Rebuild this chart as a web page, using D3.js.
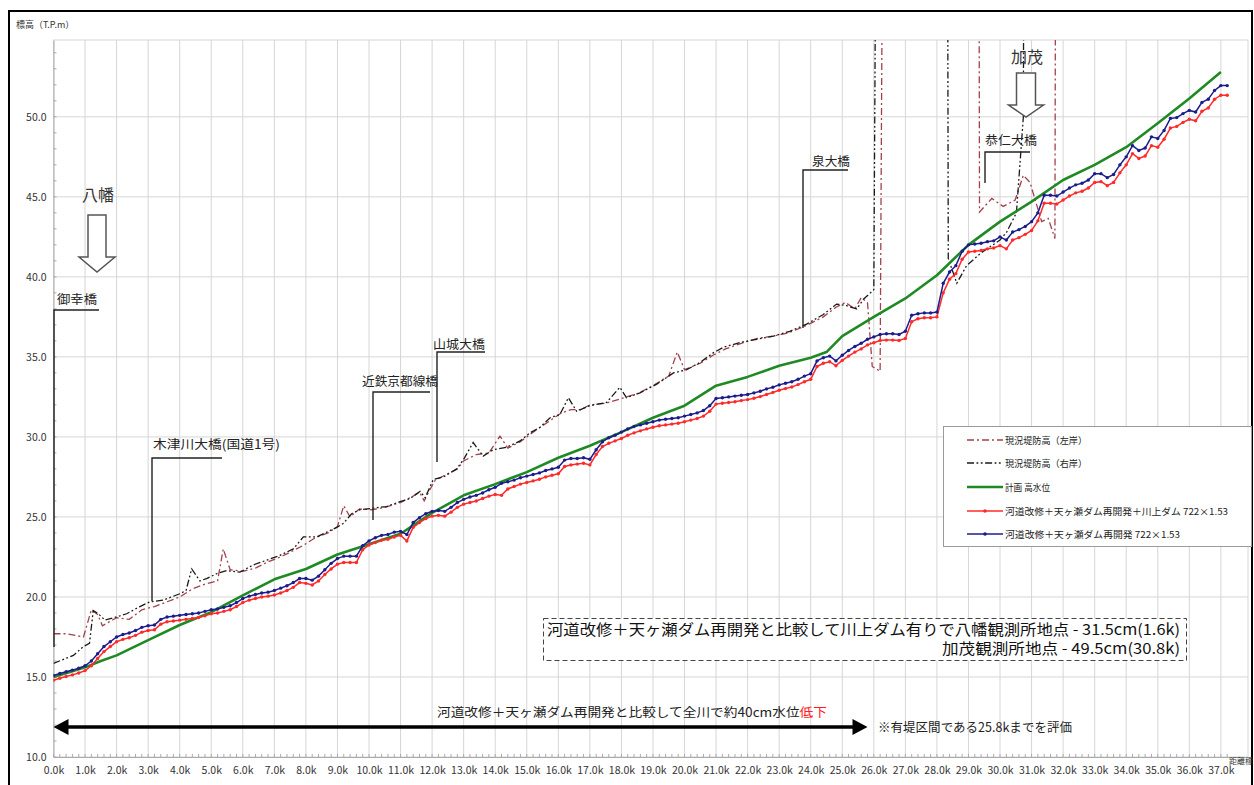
<!DOCTYPE html>
<html>
<head>
<meta charset="utf-8">
<script src="https://cdn.jsdelivr.net/npm/d3@7"></script>
<style>
  body { margin: 0; background: #fff; }
  svg { display: block; }
  text { font-family: "Noto Sans CJK JP", "Noto Sans", sans-serif; }
</style>
</head>
<body>
<svg id="chart" width="1254" height="785"></svg>
<script>
// ---------- data ----------
// distance markers (km) and their labels
const kmTicks = [0,1,2,3,4,5,6,7,8,9,10,11,12,13,14,15,16,17,18,19,20,21,22,23,24,25,26,27,28,29,30,31,32,33,34,35,36,37];
const kmLabels = ["0.0k","1.0k","2.0k","3.0k","4.0k","5.0k","6.0k","7.0k","8.0k","9.0k","10.0k","11.0k","12.0k","13.0k","14.0k","15.0k","16.0k","17.0k","18.0k","19.0k","20.0k","21.0k","22.0k","23.0k","24.0k","25.0k","26.0k","27.0k","28.0k","29.0k","30.0k","31.0k","32.0k","33.0k","34.0k","35.0k","36.0k","37.0k"];
const elevTicks = [10,15,20,25,30,35,40,45,50];
const elevLabels = ["10.0","15.0","20.0","25.0","30.0","35.0","40.0","45.0","50.0"];

// computed water level every 0.2 km from 0.0k to 37.2k
const stations = d3.range(0, 187).map(i => +(i * 0.2).toFixed(1));

// 河道改修＋天ヶ瀬ダム再開発 722×1.53
const wlWithoutKawakami = [
  15.10,15.22,15.33,15.43,15.55, 15.70,16.00,16.45,16.90,17.20,
  17.50,17.65,17.75,17.90,18.10, 18.20,18.25,18.60,18.75,18.80,
  18.85,18.90,18.95,19.00,19.10, 19.20,19.25,19.35,19.45,19.65,
  19.90,20.05,20.15,20.25,20.30, 20.40,20.55,20.70,20.90,21.15,
  21.15,21.05,21.30,21.70,22.10, 22.40,22.55,22.55,22.55,23.20,
  23.50,23.70,23.85,23.90,24.05, 24.10,23.90,24.65,24.95,25.20,
  25.35,25.40,25.35,25.60,25.90, 26.10,26.25,26.35,26.50,26.70,
  26.85,27.10,27.20,27.30,27.45, 27.55,27.65,27.75,27.90,28.00,
  28.10,28.55,28.65,28.65,28.70, 28.60,29.20,29.70,29.95,30.10,
  30.30,30.50,30.65,30.75,30.85, 30.95,31.05,31.10,31.15,31.20,
  31.30,31.40,31.50,31.65,31.95, 32.40,32.45,32.50,32.55,32.60,
  32.65,32.75,32.85,33.00,33.10, 33.25,33.35,33.45,33.60,33.80,
  33.95,34.75,34.95,35.05,34.75, 35.10,35.40,35.65,35.85,36.10,
  36.25,36.40,36.45,36.45,36.40, 36.60,37.60,37.70,37.75,37.75,
  37.80,39.60,40.30,40.70,41.60, 42.00,42.05,42.10,42.20,42.25,
  42.50,42.30,42.80,42.95,43.15, 43.45,44.00,45.10,45.10,45.05,
  45.30,45.55,45.75,45.85,46.05, 46.45,46.45,46.20,46.40,47.00,
  47.50,48.20,47.90,48.05,48.75, 48.65,49.15,49.90,49.95,50.20,
  50.40,50.30,50.90,51.10,51.65, 51.95,51.95
];

// 河道改修＋天ヶ瀬ダム再開発＋川上ダム 722×1.53
const wlWithKawakami = [
  14.80,14.92,15.03,15.13,15.25, 15.40,15.70,16.15,16.585,16.90,
  17.20,17.35,17.45,17.60,17.80, 17.90,17.95,18.30,18.45,18.50,
  18.55,18.60,18.65,18.72,18.82, 18.95,19.00,19.10,19.20,19.40,
  19.65,19.80,19.90,20.00,20.05, 20.12,20.25,20.40,20.60,20.90,
  20.85,20.75,21.00,21.40,21.75, 22.05,22.15,22.15,22.15,22.95,
  23.25,23.40,23.55,23.60,23.75, 23.85,23.50,24.35,24.65,24.90,
  25.05,25.10,25.05,25.30,25.60, 25.80,25.90,26.00,26.15,26.30,
  26.40,26.35,26.75,26.90,27.05, 27.15,27.25,27.35,27.50,27.60,
  27.70,28.15,28.25,28.30,28.35, 28.25,28.90,29.40,29.60,29.75,
  29.90,30.10,30.25,30.38,30.50, 30.60,30.70,30.75,30.80,30.85,
  30.95,31.05,31.15,31.30,31.60, 32.05,32.10,32.15,32.20,32.27,
  32.33,32.42,32.52,32.65,32.78, 32.92,33.02,33.12,33.27,33.45,
  33.60,34.40,34.60,34.70,34.45, 34.78,35.05,35.30,35.50,35.75,
  35.88,36.02,36.05,36.05,36.02, 36.15,37.20,37.38,37.45,37.45,
  37.50,39.00,39.85,40.20,41.10, 41.55,41.60,41.65,41.75,41.80,
  41.95,41.75,42.30,42.45,42.655, 42.90,43.50,44.60,44.60,44.55,
  44.80,45.05,45.25,45.35,45.55, 45.90,45.95,45.70,45.90,46.50,
  47.00,47.70,47.40,47.55,48.20, 48.10,48.60,49.30,49.40,49.65,
  49.85,49.75,50.35,50.55,51.10, 51.35,51.35
];

// 計画 高水位 [km, m]
const planHWL = [
  [0,15.0],[0.5,15.3],[1,15.6],[1.5,16.0],[2,16.35],[3,17.3],[4,18.25],[5,19.05],[6,20.1],[7,21.1],
  [8,21.75],[9,22.65],[10,23.3],[11,23.95],[12,25.25],[13,26.35],[14,27.05],[15,27.8],[16,28.7],[17,29.45],
  [18,30.3],[19,31.2],[20,31.95],[21,33.2],[22,33.75],[23,34.45],[24,34.95],[24.5,35.3],[25,36.3],[26,37.5],
  [27,38.65],[28,40.1],[29,42.0],[30,43.45],[31,44.7],[32,46.05],[33,47.0],[34,48.1],[35,49.6],[36,51.15],[37,52.8]
];

// 現況堤防高（左岸） [km, m]; 100 marks sections with no levee (above the axis)
const leveeLeft = [
  [0,17.7],[0.4,17.7],[0.95,17.5],[1.2,19.2],[1.4,18.9],[1.55,18.2],[2.0,18.7],[2.4,18.6],[2.8,19.2],[3.2,19.4],
  [3.6,19.7],[4.0,20.0],[4.4,20.5],[4.8,20.8],[5.2,21.0],[5.38,23.0],[5.6,21.7],[6.0,21.6],[6.4,21.8],[6.8,22.2],
  [7.2,22.5],[7.6,22.9],[7.9,23.2],[8.3,23.7],[8.7,24.0],[9.0,24.4],[9.2,25.7],[9.4,25.0],[9.7,25.5],[10.1,25.45],
  [10.5,25.6],[11.0,25.9],[11.4,26.3],[11.6,26.55],[11.75,26.0],[11.9,26.6],[12.1,27.3],[12.4,27.6],[12.8,28.0],
  [13.0,28.5],[13.4,28.9],[13.8,29.0],[14.15,30.05],[14.4,29.3],[14.8,29.7],[15.2,30.3],[15.5,30.7],[15.8,31.1],
  [16.1,31.5],[16.4,31.7],[16.7,31.7],[17.0,32.0],[17.5,32.1],[18.0,32.4],[18.5,32.7],[19.0,33.2],[19.5,33.8],
  [19.77,35.3],[20.0,34.2],[20.5,34.6],[20.9,35.1],[21.3,35.5],[21.8,35.85],[22.3,36.15],[22.8,36.3],[23.3,36.5],
  [23.9,37.0],[24.4,37.5],[24.8,38.1],[25.1,38.4],[25.4,38.0],[25.6,38.7],[25.8,38.4],[25.95,34.4],[26.2,34.1],
  [26.38,100],[29.3,100],[29.35,44.05],[29.74,44.9],[30.1,44.4],[30.48,44.8],[30.74,46.35],[30.95,45.9],
  [31.32,43.45],[31.53,43.65],[31.74,42.4],[31.8,100]
];

// 現況堤防高（右岸） [km, m]
const leveeRight = [
  [0,15.85],[0.63,16.35],[0.95,16.9],[1.14,17.1],[1.26,19.15],[1.42,18.95],[1.63,18.55],[2.0,18.75],[2.32,18.95],
  [2.74,19.4],[3.06,19.7],[3.48,19.8],[4.0,20.2],[4.2,20.4],[4.38,21.75],[4.64,21.0],[4.85,21.15],[5.17,21.45],
  [5.49,21.65],[5.91,21.55],[6.33,22.0],[6.76,22.3],[7.18,22.6],[7.6,23.0],[7.92,23.75],[8.34,23.75],[8.66,24.05],
  [8.98,24.35],[9.19,24.6],[9.45,25.2],[9.71,25.45],[10.14,25.55],[10.56,25.65],[10.98,25.95],[11.3,26.15],
  [11.62,26.6],[11.78,26.2],[12.04,27.35],[12.36,27.5],[12.78,28.0],[13.0,28.6],[13.3,29.65],[13.62,28.8],
  [13.94,29.2],[14.36,29.35],[14.79,29.75],[15.1,30.25],[15.42,30.6],[15.74,31.2],[16.05,31.4],[16.32,32.45],
  [16.58,31.6],[17.0,31.95],[17.53,32.15],[17.95,33.1],[18.16,32.45],[18.59,32.75],[19.12,33.3],[19.65,34.0],
  [20.07,34.2],[20.49,34.65],[20.91,35.25],[21.23,35.6],[21.76,35.9],[22.29,36.1],[22.82,36.3],[23.34,36.6],
  [23.87,37.05],[24.4,37.65],[24.82,38.3],[25.14,38.2],[25.46,38.0],[25.67,38.6],[26.0,39.2],[26.17,100],
  [28.3,100],[28.36,41.15],[28.63,39.6],[28.94,40.7],[29.4,41.5],[30.0,42.3],[30.21,42.8],[30.52,44.0],
  [30.74,50.0],[30.8,100]
];

// ---------- layout ----------
const svg = d3.select("#chart");
const x = d3.scaleLinear().domain([0, 37.86]).range([53.5, 1248]);
const y = d3.scaleLinear().domain([10, 54.8]).range([757, 40]);
const [x0, x1] = x.range();
const [yb, yt] = y.range();

const C = {
  grid: "#d6d6d6",
  left: "#a3404c",
  right: "#1a1a1a",
  plan: "#1f8a24",
  red: "#ff2a2a",
  blue: "#1c1c8c"
};

// outer frame
svg.append("rect").attr("x", 0).attr("y", 0).attr("width", 1254).attr("height", 785).attr("fill", "#fff");
svg.append("path").attr("d", "M9,785V11H1252V785").attr("fill", "none").attr("stroke", "#000").attr("stroke-width", 2);

// grid
const grid = svg.append("g");
grid.selectAll("line.v").data(kmTicks.slice(1)).join("line")
  .attr("x1", d => x(d)).attr("x2", d => x(d)).attr("y1", yt).attr("y2", yb)
  .attr("stroke", C.grid).attr("stroke-width", 1);
grid.selectAll("line.h").data(elevTicks.slice(1)).join("line")
  .attr("x1", x0).attr("x2", x1).attr("y1", d => y(d)).attr("y2", d => y(d))
  .attr("stroke", C.grid).attr("stroke-width", 1);
grid.append("rect").attr("x", x0).attr("y", yt).attr("width", x1 - x0).attr("height", yb - yt)
  .attr("fill", "none").attr("stroke", C.grid);

// axes
const yAxis = d3.axisLeft(y).tickValues(elevTicks).tickFormat((d, i) => elevLabels[i]).tickSize(0).tickPadding(7);
const gy = svg.append("g").attr("transform", `translate(${x0},0)`).call(yAxis);
gy.select(".domain").attr("stroke", "#aaa");
gy.selectAll("text").attr("font-size", 10.5).attr("fill", "#333").attr("font-family", "'Noto Sans CJK JP'");
// minor elevation ticks every 1 m
svg.append("g").selectAll("line").data(d3.range(10, 55)).join("line")
  .attr("x1", x0).attr("x2", x0 + 3).attr("y1", d => y(d)).attr("y2", d => y(d))
  .attr("stroke", "#aaa");

const xAxis = d3.axisBottom(x).tickValues(kmTicks).tickFormat((d, i) => kmLabels[i]).tickSize(0).tickPadding(10);
const gx = svg.append("g").attr("transform", `translate(0,${yb})`).call(xAxis);
gx.select(".domain").attr("stroke", "#aaa");
gx.selectAll("text").attr("font-size", 10.5).attr("fill", "#333");
// minor distance ticks every 0.2 km
svg.append("g").selectAll("line").data(stations.filter(d => d <= 37.8)).join("line")
  .attr("x1", d => x(d)).attr("x2", d => x(d)).attr("y1", yb).attr("y2", yb - 3)
  .attr("stroke", "#aaa");

svg.append("text").attr("x", 16).attr("y", 28).attr("font-size", 9).attr("fill", "#333").text("標高（T.P.m）");
svg.append("text").attr("x", 1229).attr("y", 764).attr("font-size", 8).attr("fill", "#333").text("距離標");

// series
svg.append("clipPath").attr("id", "plotClip").append("rect")
  .attr("x", x0).attr("y", yt).attr("width", x1 - x0).attr("height", yb - yt);
const plot = svg.append("g").attr("clip-path", "url(#plotClip)");
const line = d3.line().x(d => x(d[0])).y(d => y(d[1]));

plot.append("path").attr("d", line(leveeLeft)).attr("fill", "none")
  .attr("stroke", C.left).attr("stroke-width", 1.3).attr("stroke-dasharray", "7,3,2,3");
plot.append("path").attr("d", line(leveeRight)).attr("fill", "none")
  .attr("stroke", C.right).attr("stroke-width", 1.3).attr("stroke-dasharray", "7,2.5,1.8,2.5,1.8,2.5");
plot.append("path").attr("d", line(planHWL)).attr("fill", "none")
  .attr("stroke", C.plan).attr("stroke-width", 2.6).attr("stroke-linejoin", "round");

function drawMarked(values, color) {
  const pts = values.map((v, i) => [stations[i], v]);
  plot.append("path").attr("d", line(pts)).attr("fill", "none")
    .attr("stroke", color).attr("stroke-width", 1.5);
  plot.append("g").selectAll("circle").data(pts).join("circle")
    .attr("cx", d => x(d[0])).attr("cy", d => y(d[1])).attr("r", 1.7).attr("fill", color);
}
drawMarked(wlWithKawakami, C.red);
drawMarked(wlWithoutKawakami, C.blue);

// ---------- annotations ----------
const ann = svg.append("g");
function leader(pts) {
  ann.append("path").attr("d", d3.line()(pts)).attr("fill", "none").attr("stroke", "#222").attr("stroke-width", 1.4);
}
function label(t, px, py, size, width) {
  const el = ann.append("text").attr("x", px).attr("y", py).attr("font-size", size).attr("fill", "#222").text(t);
  if (width) el.attr("textLength", width).attr("lengthAdjust", "spacingAndGlyphs");
  return el;
}

// bridges
label("御幸橋", 57, 304, 12.5, 40);
leader([[99, 310], [54, 310], [54, 647]]);
label("木津川大橋(国道1号)", 153, 449, 12.5, 127);
leader([[222, 458], [152, 458], [152, 601]]);
label("近鉄京都線橋", 362, 386, 12.5, 76);
leader([[430, 392], [373, 392], [373, 520]]);
label("山城大橋", 433, 349, 12.5, 52);
leader([[485, 352], [437, 352], [437, 462]]);
label("泉大橋", 812, 166, 12.5, 38);
leader([[848, 170], [803, 170], [803, 328]]);
label("恭仁大橋", 985, 145, 12.5, 52);
leader([[1030, 152], [985, 152], [985, 183]]);

// gauging station arrows
function hollowArrow(cx, top, headY, tip, shaftHalf, headHalf) {
  const p = [[cx - shaftHalf, top], [cx + shaftHalf, top], [cx + shaftHalf, headY], [cx + headHalf, headY],
             [cx, tip], [cx - headHalf, headY], [cx - shaftHalf, headY]];
  ann.append("path").attr("d", d3.line()(p) + "Z").attr("fill", "#fff").attr("stroke", "#555").attr("stroke-width", 1.5);
}
ann.append("text").attr("x", 98).attr("y", 201).attr("text-anchor", "middle").attr("font-size", 16).attr("fill", "#333").text("八幡");
hollowArrow(97, 215, 257, 272, 9, 18);
ann.append("text").attr("x", 1027).attr("y", 63).attr("text-anchor", "middle").attr("font-size", 16).attr("fill", "#333").text("加茂");
hollowArrow(1026, 73, 105, 117, 9.5, 17.5);

// result box
ann.append("rect").attr("x", 543.5).attr("y", 618.5).attr("width", 643).attr("height", 42)
  .attr("fill", "#fff").attr("stroke", "#444").attr("stroke-dasharray", "5,3");
ann.append("text").attr("x", 547).attr("y", 635).attr("font-size", 15).attr("fill", "#111")
  .attr("textLength", 633).attr("lengthAdjust", "spacingAndGlyphs")
  .text("河道改修＋天ヶ瀬ダム再開発と比較して川上ダム有りで八幡観測所地点 - 31.5cm(1.6k)");
ann.append("text").attr("x", 942).attr("y", 654).attr("font-size", 15).attr("fill", "#111")
  .attr("textLength", 238).attr("lengthAdjust", "spacingAndGlyphs")
  .text("加茂観測所地点 - 49.5cm(30.8k)");

// evaluation span arrow
const span = [0, 25.8];
const ay = 727;
ann.append("line").attr("x1", x(span[0]) + 12).attr("x2", x(span[1]) - 12).attr("y1", ay).attr("y2", ay)
  .attr("stroke", "#000").attr("stroke-width", 3.5);
ann.append("path").attr("d", `M${x(span[0])},${ay}l15,-8v16Z`).attr("fill", "#000");
ann.append("path").attr("d", `M${x(span[1])},${ay}l-15,-8v16Z`).attr("fill", "#000");
const t1 = ann.append("text").attr("x", 437).attr("y", 717).attr("font-size", 12.5).attr("fill", "#222")
  .attr("textLength", 390).attr("lengthAdjust", "spacingAndGlyphs");
t1.append("tspan").text("河道改修＋天ヶ瀬ダム再開発と比較して全川で約40cm水位");
t1.append("tspan").attr("fill", "#ff2020").text("低下");
ann.append("text").attr("x", 878).attr("y", 732).attr("font-size", 12.5).attr("fill", "#222")
  .attr("textLength", 194).attr("lengthAdjust", "spacingAndGlyphs")
  .text("※有堤区間である25.8kまでを評価");

// ---------- legend ----------
const lg = svg.append("g");
lg.append("rect").attr("x", 943.5).attr("y", 426.5).attr("width", 308).attr("height", 120)
  .attr("fill", "#fff").attr("stroke", "#9a9a9a");
const legendItems = [
  { name: "現況堤防高（左岸）", color: C.left, w: 1.3, dash: "7,3,2,3", mark: false, tl: 82 },
  { name: "現況堤防高（右岸）", color: C.right, w: 1.3, dash: "7,2.5,1.8,2.5,1.8,2.5", mark: false, tl: 82 },
  { name: "計画 高水位", color: C.plan, w: 2.6, dash: null, mark: false, tl: 45 },
  { name: "河道改修＋天ヶ瀬ダム再開発＋川上ダム 722×1.53", color: C.red, w: 1.5, dash: null, mark: true, tl: 223 },
  { name: "河道改修＋天ヶ瀬ダム再開発 722×1.53", color: C.blue, w: 1.5, dash: null, mark: true, tl: 175 }
];
const legendY = [440, 463, 487, 511, 534];
legendItems.forEach((it, i) => {
  const ly = legendY[i];
  lg.append("line").attr("x1", 967).attr("x2", 1003).attr("y1", ly).attr("y2", ly)
    .attr("stroke", it.color).attr("stroke-width", it.w).attr("stroke-dasharray", it.dash);
  if (it.mark) lg.append("circle").attr("cx", 985).attr("cy", ly).attr("r", 1.8).attr("fill", it.color);
  lg.append("text").attr("x", 1005).attr("y", ly + 3.5).attr("font-size", 9.5).attr("fill", "#222")
    .attr("textLength", it.tl).attr("lengthAdjust", "spacingAndGlyphs").text(it.name);
});
</script>
</body>
</html>
